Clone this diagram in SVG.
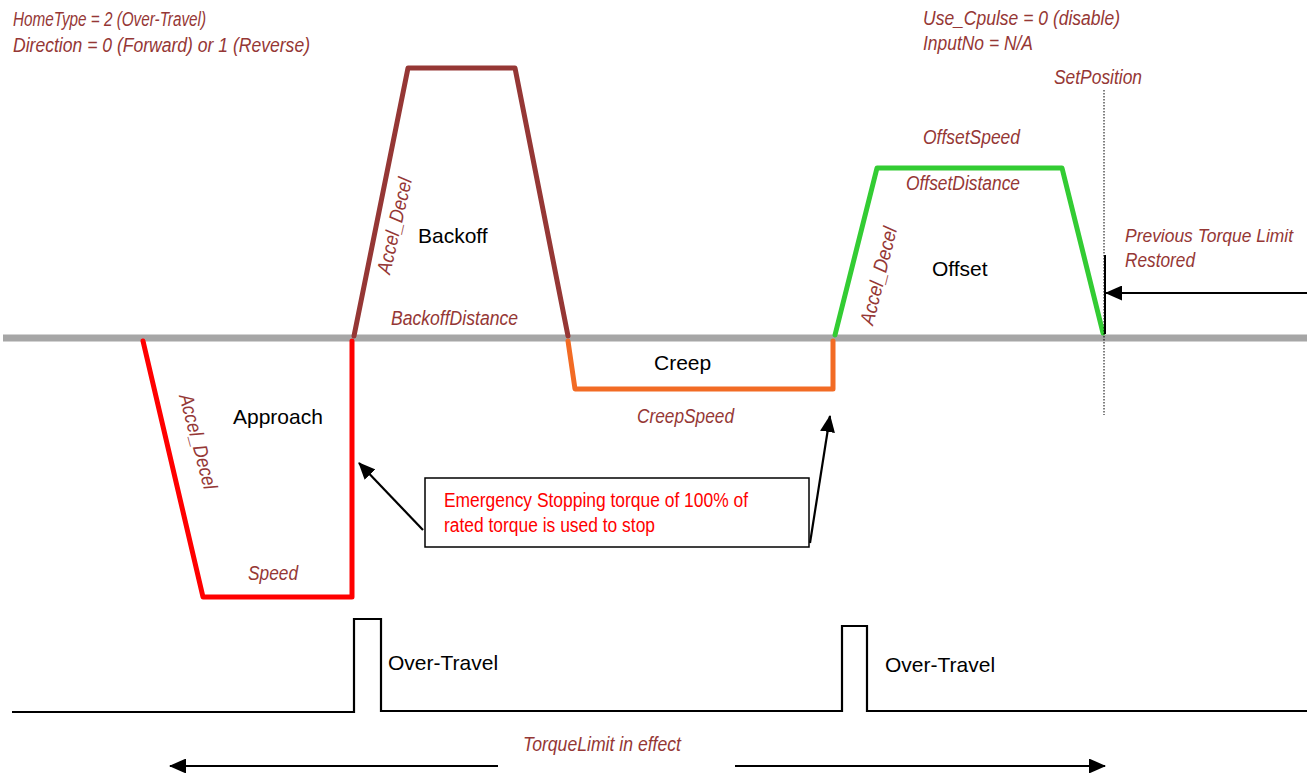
<svg xmlns="http://www.w3.org/2000/svg" width="1307" height="773" viewBox="0 0 1307 773">
<defs>
<style>
.lbl{font-family:"Liberation Sans",Arial,sans-serif;font-style:italic;font-size:20px;fill:#953735}
.nm{font-family:"Liberation Sans",Arial,sans-serif;font-size:21px;fill:#000}
.em{font-family:"Liberation Sans",Arial,sans-serif;font-size:20px;fill:#ff0000}
.prof{fill:none;stroke-width:5;stroke-linejoin:round;stroke-linecap:round}
.ar{stroke:#000;stroke-width:2.2;fill:none}
</style>
<marker id="ahb" markerWidth="17" markerHeight="15" refX="16" refY="7.5" orient="auto" markerUnits="userSpaceOnUse" viewBox="0 0 17 15">
<path d="M0,0 L17,7.5 L0,15 Z" fill="#000"/>
</marker>
</defs>
<rect width="1307" height="773" fill="#fff"/>

<g id="params">
<text class="lbl" x="13" y="26" textLength="193" lengthAdjust="spacingAndGlyphs">HomeType = 2 (Over-Travel)</text>
<text class="lbl" x="13" y="52" textLength="297" lengthAdjust="spacingAndGlyphs">Direction = 0 (Forward) or 1 (Reverse)</text>
<text class="lbl" x="923" y="25" textLength="197" lengthAdjust="spacingAndGlyphs">Use_Cpulse = 0 (disable)</text>
<text class="lbl" x="923" y="50" textLength="110" lengthAdjust="spacingAndGlyphs">InputNo = N/A</text>
</g>

<g id="baseline">
<line x1="3" y1="338" x2="1307" y2="338" stroke="#a6a6a6" stroke-width="7"/>
</g>

<g id="approach">
<polyline class="prof" stroke="#ff0000" stroke-width="4" points="143,341 203,597 352,597 352,341"/>
<text class="nm" x="233" y="424">Approach</text>
<text class="lbl" x="248" y="580" textLength="50" lengthAdjust="spacingAndGlyphs">Speed</text>
<text class="lbl" transform="translate(179,396) rotate(75)" textLength="98" lengthAdjust="spacingAndGlyphs">Accel_Decel</text>
</g>

<g id="backoff">
<polyline class="prof" stroke="#953735" points="354,336 408,68 515,68 568,336"/>
<text class="nm" x="418" y="243">Backoff</text>
<text class="lbl" x="391" y="325" textLength="127" lengthAdjust="spacingAndGlyphs">BackoffDistance</text>
<text class="lbl" transform="translate(390,275) rotate(-77)" textLength="98" lengthAdjust="spacingAndGlyphs">Accel_Decel</text>
</g>

<g id="creep">
<polyline class="prof" stroke="#f26b24" stroke-width="4" points="568,341 575,389 833,389 833,341"/>
<text class="nm" x="654" y="370">Creep</text>
<text class="lbl" x="637" y="423" textLength="97" lengthAdjust="spacingAndGlyphs">CreepSpeed</text>
</g>

<g id="offset">
<polyline class="prof" stroke="#33cc33" points="835,335 877,168 1062,168 1103,333"/>
<text class="nm" x="932" y="276">Offset</text>
<text class="lbl" x="923" y="144" textLength="97" lengthAdjust="spacingAndGlyphs">OffsetSpeed</text>
<text class="lbl" x="906" y="190" textLength="114" lengthAdjust="spacingAndGlyphs">OffsetDistance</text>
<text class="lbl" transform="translate(873,326) rotate(-76)" textLength="100" lengthAdjust="spacingAndGlyphs">Accel_Decel</text>
</g>

<g id="setposition">
<line x1="1104" y1="90" x2="1104" y2="415" stroke="#000" stroke-width="1" stroke-dasharray="1.5,1.5"/>
<text class="lbl" x="1054" y="84" textLength="88" lengthAdjust="spacingAndGlyphs">SetPosition</text>
</g>

<g id="restored">
<line x1="1105" y1="255" x2="1105" y2="334" stroke="#000" stroke-width="2"/>
<text class="lbl" x="1125" y="242" style="font-size:18px" textLength="168" lengthAdjust="spacingAndGlyphs">Previous Torque Limit</text>
<text class="lbl" x="1125" y="267" textLength="70" lengthAdjust="spacingAndGlyphs">Restored</text>
</g>

<g id="note">
<rect x="425" y="478" width="384" height="69" fill="#fff" stroke="#000" stroke-width="1.5"/>
<text class="em" x="444" y="507" textLength="304" lengthAdjust="spacingAndGlyphs">Emergency Stopping torque of 100% of</text>
<text class="em" x="444" y="532" textLength="211" lengthAdjust="spacingAndGlyphs">rated torque is used to stop</text>
</g>

<g id="overtravel">
<polyline fill="none" stroke="#000" stroke-width="2.2" points="12,712 354,712 354,619 381,619 381,711 842,711 842,626 867,626 867,711 1307,711"/>
<text class="nm" x="388" y="670">Over-Travel</text>
<text class="nm" x="885" y="672">Over-Travel</text>
</g>

<g id="torquelimit">
<text class="lbl" x="523" y="751" textLength="158" lengthAdjust="spacingAndGlyphs">TorqueLimit in effect</text>
</g>

<g id="connectors">
<line class="ar" x1="423" y1="530" x2="359" y2="463" marker-end="url(#ahb)"/>
<line class="ar" x1="810" y1="543" x2="830" y2="416" marker-end="url(#ahb)"/>
<line class="ar" x1="1307" y1="293" x2="1106" y2="293" marker-end="url(#ahb)"/>
<line class="ar" stroke-width="3" x1="498" y1="766" x2="170" y2="766" marker-end="url(#ahb)"/>
<line class="ar" stroke-width="3" x1="735" y1="766" x2="1105" y2="766" marker-end="url(#ahb)"/>
</g>
</svg>
